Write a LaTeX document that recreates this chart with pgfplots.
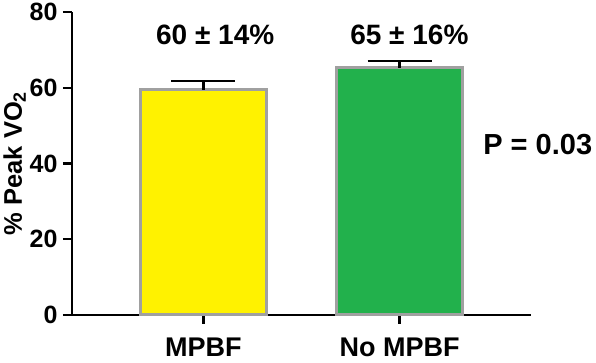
\documentclass[border=0pt]{standalone}
\usepackage{pgfplots}
\pgfplotsset{compat=1.18}
\usepackage{fontspec}
\setmainfont{Liberation Sans}
\definecolor{baryellow}{HTML}{FFF200}
\definecolor{bargreen}{HTML}{22B14C}
\definecolor{baredge}{HTML}{A0A0A0}
\begin{document}
\begin{tikzpicture}
\begin{axis}[
  name=ax,
  scale only axis,
  width=459pt, height=303pt,
  ymin=0, ymax=80,
  xmin=-0.67, xmax=1.67,
  ytick={0,20,40,60,80},
  xtick={0,1},
  xticklabels={MPBF, No MPBF},
  axis x line*=bottom,
  axis y line*=left,
  axis line style={line width=2.2pt, -},
  tick style={line width=2.2pt, black},
  tick align=outside,
  major tick length=9pt,
  /pgf/number format/assume math mode=true,
  yticklabel style={font=\bfseries\fontsize{25}{25}\selectfont, xshift=-2pt},
  xticklabel style={font=\bfseries\fontsize{27}{27}\selectfont, yshift=-10pt},
  ylabel={\bfseries\fontsize{25.5}{25.5}\selectfont \% Peak VO\textsubscript{2}},
  ylabel style={yshift=-3pt},
  clip=false,
  ybar, bar width=126pt, bar shift=0pt,
]
\addplot[fill=baryellow, draw=baredge, line width=3pt,
  error bars/.cd, y dir=plus, y explicit,
  error bar style={line width=2.2pt, black},
  error mark options={rotate=90, mark size=32pt, line width=2.2pt, black}]
  coordinates {(0,59.5) +- (0,2.3)};
\addplot[fill=bargreen, draw=baredge, line width=3pt,
  error bars/.cd, y dir=plus, y explicit,
  error bar style={line width=2.2pt, black},
  error mark options={rotate=90, mark size=32pt, line width=2.2pt, black}]
  coordinates {(1,65.3) +- (0,1.7)};
\node[font=\bfseries\fontsize{28}{28}\selectfont] at (axis cs:0.06,73.9) {60 ± 14\%};
\node[font=\bfseries\fontsize{28}{28}\selectfont] at (axis cs:1.05,73.9) {65 ± 16\%};
\node[font=\bfseries\fontsize{29}{29}\selectfont, anchor=west, inner sep=0pt] at (axis cs:1.426,44.9) {P = 0.03};
\end{axis}
\pgfresetboundingbox
\path[use as bounding box] ([xshift=-72pt,yshift=-48pt]ax.south west) rectangle ([xshift=65pt,yshift=12pt]ax.north east);
\end{tikzpicture}
\end{document}
